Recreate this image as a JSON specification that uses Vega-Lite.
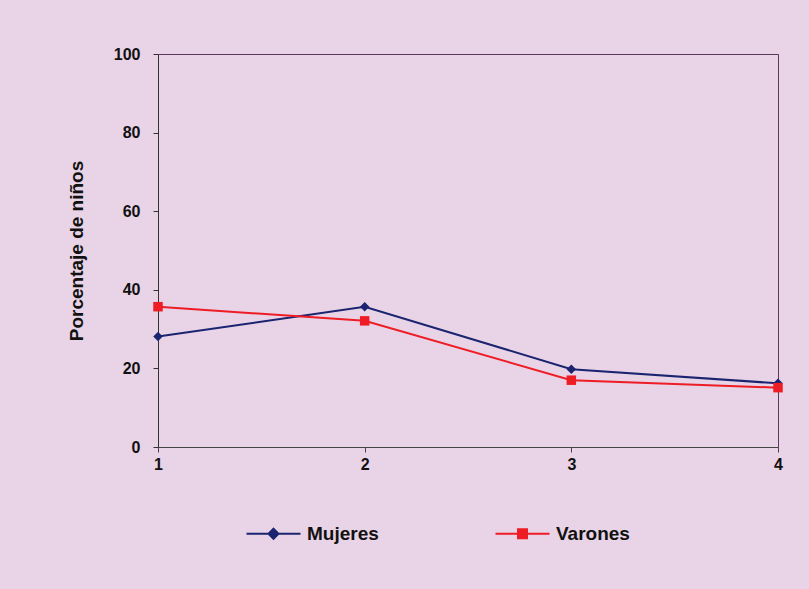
{
  "$schema": "https://vega.github.io/schema/vega-lite/v6.json",
  "width": 620,
  "height": 393,
  "autosize": {"type": "none"},
  "padding": {"left": 158, "top": 54, "right": 31, "bottom": 142},
  "background": "#e9d3e6",
  "config": {
    "font": "Liberation Sans",
    "view": {"stroke": "#5a3a5a", "strokeWidth": 1}
  },
  "data": {
    "values": [
      {"x": 1, "serie": "Mujeres", "valor": 28.1},
      {"x": 2, "serie": "Mujeres", "valor": 35.7},
      {"x": 3, "serie": "Mujeres", "valor": 19.8},
      {"x": 4, "serie": "Mujeres", "valor": 16.2},
      {"x": 1, "serie": "Varones", "valor": 35.7},
      {"x": 2, "serie": "Varones", "valor": 32.1},
      {"x": 3, "serie": "Varones", "valor": 17.0},
      {"x": 4, "serie": "Varones", "valor": 15.1}
    ]
  },
  "encoding": {
    "x": {
      "field": "x", "type": "quantitative",
      "scale": {"domain": [1, 4], "nice": false, "zero": false},
      "axis": {
        "values": [1, 2, 3, 4], "title": null, "grid": false,
        "labelFontSize": 16, "labelFontWeight": "bold", "labelColor": "#111",
        "domainColor": "#444", "tickColor": "#444", "tickSize": 5, "labelPadding": 4,
        "labelFlush": false
      }
    },
    "y": {
      "field": "valor", "type": "quantitative",
      "scale": {"domain": [0, 100], "nice": false},
      "axis": {
        "values": [0, 20, 40, 60, 80, 100], "title": "Porcentaje de niños", "grid": false,
        "titleFontSize": 19, "titleFontWeight": "bold", "titleColor": "#111", "titlePadding": 27,
        "labelFontSize": 16, "labelFontWeight": "bold", "labelColor": "#111",
        "domainColor": "#333", "tickColor": "#333", "tickSize": 5, "labelPadding": 13
      }
    },
    "color": {
      "field": "serie", "type": "nominal",
      "scale": {"domain": ["Mujeres", "Varones"], "range": ["#1b2470", "#ee1c24"]}
    }
  },
  "layer": [
    {
      "mark": {"type": "line", "strokeWidth": 2},
      "encoding": {
        "color": {
          "field": "serie", "type": "nominal",
          "scale": {"domain": ["Mujeres", "Varones"], "range": ["#1b2470", "#ee1c24"]},
          "legend": {
            "title": null, "orient": "none", "direction": "horizontal",
            "legendX": 106, "legendY": 470,
            "labelFontSize": 19, "labelFontWeight": "bold", "labelColor": "#111",
            "symbolSize": 100, "symbolStrokeWidth": 2, "labelOffset": 24,
            "symbolOffset": 0, "columnPadding": 112,
            "encode": {
              "symbols": {
                "update": {
                  "shape": {"signal": "datum.value === 'Mujeres' ? 'M-5.4,0H5.4M0,-1L1,0L0,1L-1,0Z' : 'M-5.4,0H5.4M-0.9,-0.9H0.9V0.9H-0.9Z'"},
                  "fill": {"scale": "color", "field": "value"},
                  "stroke": {"scale": "color", "field": "value"},
                  "strokeWidth": {"value": 2},
                  "fillOpacity": {"value": 1},
                  "strokeOpacity": {"value": 1}
                }
              }
            }
          }
        }
      }
    },
    {
      "transform": [{"filter": "datum.serie === 'Mujeres'"}],
      "mark": {"type": "point", "shape": "diamond", "filled": true, "size": 90, "opacity": 1},
      "encoding": {
        "color": {"field": "serie", "type": "nominal", "legend": null}
      }
    },
    {
      "transform": [{"filter": "datum.serie === 'Varones'"}],
      "mark": {"type": "point", "shape": "square", "filled": true, "size": 90, "opacity": 1},
      "encoding": {
        "color": {"field": "serie", "type": "nominal", "legend": null}
      }
    }
  ]
}
